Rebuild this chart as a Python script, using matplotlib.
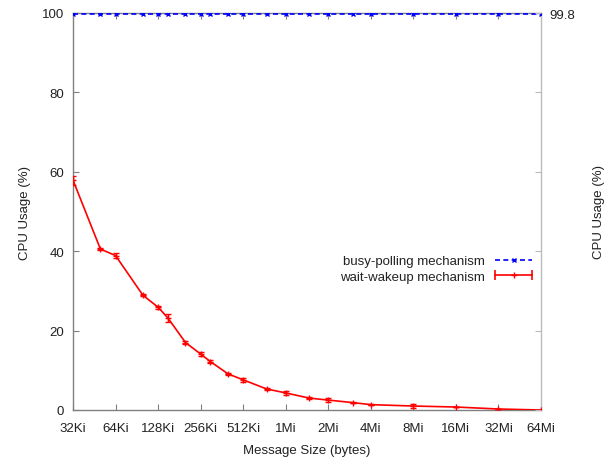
import matplotlib
matplotlib.use("Agg")
import matplotlib.pyplot as plt
from matplotlib.legend_handler import HandlerLine2D, HandlerTuple
from matplotlib.lines import Line2D
from matplotlib.ticker import FixedLocator, NullLocator

plt.rcParams["font.family"] = ["Liberation Sans", "DejaVu Sans"]

# message sizes in KiB
sizes_kib = [32, 50, 64, 100, 128, 150, 200, 256, 300, 400, 512, 750,
             1024, 1500, 2048, 3072, 4096, 8192, 16384, 32768, 65536]
busy_cpu = [99.8] * len(sizes_kib)
wait_cpu = [57.9, 40.55, 38.9, 28.9, 25.9, 23.2, 17.0, 14.1, 12.2, 9.1, 7.6,
            5.3, 4.3, 3.0, 2.5, 1.85, 1.35, 1.0, 0.75, 0.25, 0.0]
wait_err = [1.1, 0.3, 0.7, 0.3, 0.4, 1.0, 0.3, 0.5, 0.3, 0.2, 0.5,
            0.2, 0.5, 0.2, 0.4, 0.2, 0.1, 0.4, 0.1, 0.1, 0.1]

tick_kib = [32, 64, 128, 256, 512, 1024, 2048, 4096, 8192, 16384, 32768, 65536]
tick_labels = ["32Ki", "64Ki", "128Ki", "256Ki", "512Ki", "1Mi", "2Mi",
               "4Mi", "8Mi", "16Mi", "32Mi", "64Mi"]
y_ticks = [0, 20, 40, 60, 80, 100]

GRAY = "#808080"
LIGHT = "#bbbbbb"
TXT = "#222222"
FS = 9.5

fig = plt.figure(figsize=(6.08, 4.60), dpi=100)
ax = fig.add_axes([73 / 608, 49 / 460, 468 / 608, 397 / 460])

ax.set_xscale("log", base=2)
ax.set_xlim(32, 65536)
ax.set_ylim(0, 100)

busy_line, = ax.plot(sizes_kib, busy_cpu, color="#0000ff", lw=1.2,
                     dashes=(3, 2), marker="x", ms=3.5, mew=1.0, zorder=3)
ax.errorbar(sizes_kib, wait_cpu, yerr=wait_err, color="#ff0000",
            lw=1.2, marker="+", ms=5, mew=1.0, capsize=2.5,
            elinewidth=1.0, capthick=1.0, zorder=3)

ax.xaxis.set_major_locator(FixedLocator(tick_kib))
ax.set_xticklabels(tick_labels)
ax.xaxis.set_minor_locator(NullLocator())
ax.set_yticks(y_ticks)

for name, side in ax.spines.items():
    side.set_color(LIGHT if name == "right" else GRAY)
    side.set_linewidth(1.0)

ax.tick_params(axis="both", which="major", direction="in", length=4.5,
               color=GRAY, labelsize=FS, labelcolor=TXT, top=True, right=False)
ax.tick_params(axis="x", pad=8.5)
ax.tick_params(axis="y", pad=6.5)

ax.set_xlabel("Message Size (bytes)", fontsize=FS, color=TXT, labelpad=7)
ax.set_ylabel("CPU Usage (%)", fontsize=FS, color=TXT, labelpad=8)

# right side: light mirrored ticks plus the single 99.8 label
ax2 = ax.twinx()
ax2.set_ylim(0, 100)
ax2.set_yticks(y_ticks)
ax2.set_yticklabels([""] * len(y_ticks))
ax2.tick_params(axis="y", which="major", direction="in", length=4.5, color=LIGHT)
ax2.set_yticks([99.8], minor=True)
ax2.set_yticklabels(["99.8"], minor=True)
ax2.tick_params(axis="y", which="minor", length=0, labelsize=FS,
                labelcolor=TXT, pad=6)
ax2.set_ylabel("CPU Usage (%)", fontsize=FS, color=TXT, labelpad=13)
for side in ax2.spines.values():
    side.set_visible(False)

# gnuplot-style key samples
busy_key = Line2D([], [], color="#0000ff", lw=1.2, dashes=(3, 2),
                  marker="x", ms=3.5, mew=1.0)
wait_line = Line2D([], [], color="#ff0000", lw=1.2, marker="+", ms=5, mew=1.0)
wait_caps = Line2D([], [], color="#ff0000", lw=0, marker="|", ms=7, mew=1.2)

leg = fig.legend(handles=[busy_key, (wait_line, wait_caps)],
                 labels=["busy-polling mechanism", "wait-wakeup mechanism"],
                 handler_map={tuple: HandlerTuple(ndivide=1, pad=0),
                              wait_caps: HandlerLine2D(numpoints=2, marker_pad=0)},
                 loc="center right",
                 bbox_to_anchor=(539 / 608, (460 - 270) / 460),
                 frameon=False, markerfirst=False, fontsize=FS,
                 handlelength=2.8, handletextpad=0.8, borderpad=0,
                 labelspacing=0.25, numpoints=1)
for txt in leg.get_texts():
    txt.set_color(TXT)

fig.savefig("out.png", dpi=100)
